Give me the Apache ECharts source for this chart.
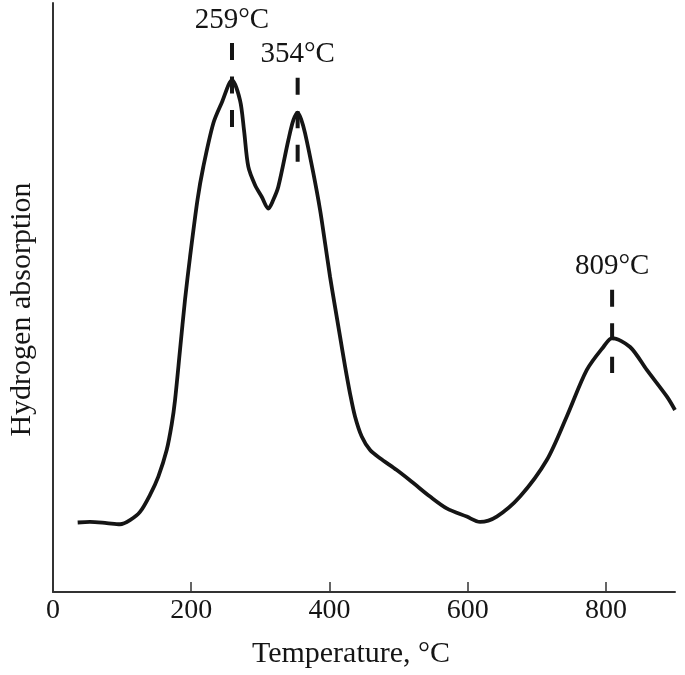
<!DOCTYPE html>
<html>
<head>
<meta charset="utf-8">
<script src="https://cdn.jsdelivr.net/npm/echarts@6/dist/echarts.min.js"></script>
<style>html,body{margin:0;padding:0;background:#fff}#c{width:685px;height:675px}</style>
</head>
<body>
<div id="c"></div>
<script>
var temperature = [35.7,53.5,77.7,97.0,111.4,125.9,140.4,152.4,164.5,171.8,176.6,183.8,191.0,198.3,209.1,217.5,232.0,244.6,259,270.6,276.4,282.6,292.3,302.0,311.6,318.8,326.0,340.5,347.8,354,359,364.7,376.7,386.4,393.6,400.9,408.1,415.3,422.6,429.8,437.0,446.7,458.8,473.2,497.4,521.4,545.6,569.7,598.7,617.9,642.1,675.8,714.5,743.4,772.4,796.4,809,835.0,859.2,888.1,900];
var absorption = [11.8,11.9,11.7,11.5,12.2,13.6,16.5,19.6,24.1,28.5,32.6,41.1,49.6,56.9,66.6,72.2,79.6,83.2,86.9,83.5,78.4,72.2,69.1,67.1,65.1,66.6,68.8,76.7,80.1,81.4,80.3,77.9,71.1,64.9,59.3,53.5,48.4,43.4,38.3,33.7,29.8,26.4,24.1,22.7,20.7,18.5,16.2,14.2,12.8,11.9,12.8,16.2,22.4,29.8,37.7,41.6,43.1,41.6,37.7,33.2,30.9];
var peakTemps = [259, 354, 809];
var peakLabels = ['259°C', '354°C', '809°C'];
var markTop = [93.2, 87.3, 51.3];
var markBottom = [78.9, 72.5, 37.2];
var xTicks = [0, 200, 400, 600, 800];

var FONT = 'Liberation Serif';
var INK = '#151515';
var chart = echarts.init(document.getElementById('c'));
var series = [{
  type: 'line',
  data: temperature.map(function (t, i) { return [t, absorption[i]]; }),
  smooth: 0.3,
  symbol: 'none',
  lineStyle: { color: INK, width: 3.8 },
  z: 3
}];
peakTemps.forEach(function (t, i) {
  series.push({
    type: 'line',
    data: [[t, markTop[i]], [t, markBottom[i]]],
    symbol: 'none',
    lineStyle: { color: INK, width: 4, type: [17, 16.5] },
    z: 4
  });
});
series.push({
  type: 'scatter',
  data: peakTemps.map(function (t, i) { return { value: [t, markTop[i]], name: peakLabels[i] }; }),
  symbolSize: 1,
  itemStyle: { color: 'rgba(255,255,255,0)', opacity: 1 },
  label: {
    show: true, position: 'top', distance: 8,
    formatter: function (p) { return p.name; },
    fontFamily: FONT, fontSize: 29, color: INK, opacity: 1
  },
  z: 5
});
chart.setOption({
  animation: false,
  backgroundColor: '#fff',
  grid: { left: 53, right: 10, top: 3, bottom: 83, containLabel: false, outerBoundsMode: 'none' },
  xAxis: {
    type: 'value', min: 0, max: 900, interval: 100,
    name: 'Temperature, °C', nameLocation: 'middle', nameGap: 47,
    nameTextStyle: { fontFamily: FONT, fontSize: 30, color: INK, padding: [0, 26, 0, 0] },
    axisLine: { show: true, lineStyle: { color: '#333', width: 2 } },
    axisTick: { show: true, inside: true, length: 10, customValues: xTicks, lineStyle: { color: '#333', width: 1.5 } },
    axisLabel: { show: true, customValues: xTicks, margin: 5, fontFamily: FONT, fontSize: 28, color: INK },
    splitLine: { show: false }
  },
  yAxis: {
    type: 'value', min: 0, max: 100,
    name: 'Hydrogen absorption', nameLocation: 'middle', nameGap: 16,
    nameTextStyle: { fontFamily: FONT, fontSize: 30, color: INK, padding: [0, 24, 0, 0] },
    axisLine: { show: true, lineStyle: { color: '#333', width: 2 } },
    axisTick: { show: false },
    axisLabel: { show: false },
    splitLine: { show: false }
  },
  series: series
});
</script>
</body>
</html>
